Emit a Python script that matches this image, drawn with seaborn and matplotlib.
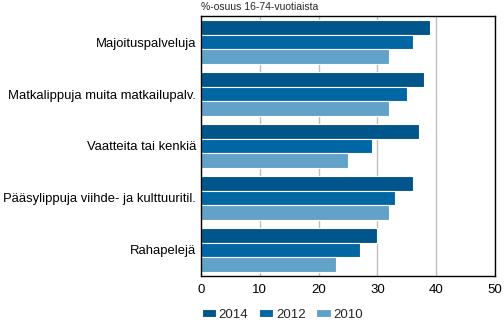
import matplotlib
matplotlib.use("Agg")
import matplotlib.pyplot as plt
import seaborn as sns
import pandas as pd

categories = ["Majoituspalveluja", "Matkalippuja muita matkailupalv.", "Vaatteita tai kenkiä",
              "Pääsylippuja viihde- ja kulttuuritil.", "Rahapelejä"]
years = ["2014", "2012", "2010"]
v2014 = [39, 38, 37, 36, 30]
v2012 = [36, 35, 29, 33, 27]
v2010 = [32, 32, 25, 32, 23]
colors = ["#00558B", "#0066A4", "#63A2C8"]

rows = []
for y, vals in zip(years, [v2014, v2012, v2010]):
    for c, v in zip(categories, vals):
        rows.append({"cat": c, "year": y, "val": v})
df = pd.DataFrame(rows)

sns.set_style("white")
plt.rcParams['font.family'] = ['Liberation Sans', 'DejaVu Sans']

fig = plt.figure(figsize=(5.04, 3.23), dpi=100)
ax = fig.add_axes([0.399, 0.146, 0.583, 0.804])
sns.barplot(data=df, y="cat", x="val", hue="year", hue_order=years, order=categories,
            palette=colors, orient="h", width=0.84, edgecolor="white", linewidth=0.8,
            saturation=1, ax=ax, legend=True)
ax.set_xlim(0, 50)
ax.set_xticks([0, 10, 20, 30, 40, 50])
ax.set_ylim(4.5, -0.5)
ax.grid(axis="x", color="#BEBEBE", linewidth=1)
ax.set_axisbelow(True)
for s in ax.spines.values():
    s.set_color("black")
    s.set_linewidth(1)
ax.set_xlabel("")
ax.set_ylabel("")
ax.tick_params(axis="x", length=0, labelsize=9.5, colors="black", pad=6)
ax.tick_params(axis="y", length=0, labelsize=9.4, colors="black", pad=3.5)
fig.text(0.399, 0.962, "%-osuus 16-74-vuotiaista", fontsize=7.5, ha="left", va="bottom")
h, l = ax.get_legend_handles_labels()
ax.legend_.remove()
fig.legend(h, l, loc="lower center", bbox_to_anchor=(0.56, -0.03), ncol=3, frameon=False,
           fontsize=9.5, handlelength=1.1, handleheight=0.5, handletextpad=0.2, columnspacing=0.8)
fig.savefig("out.png", dpi=100)
